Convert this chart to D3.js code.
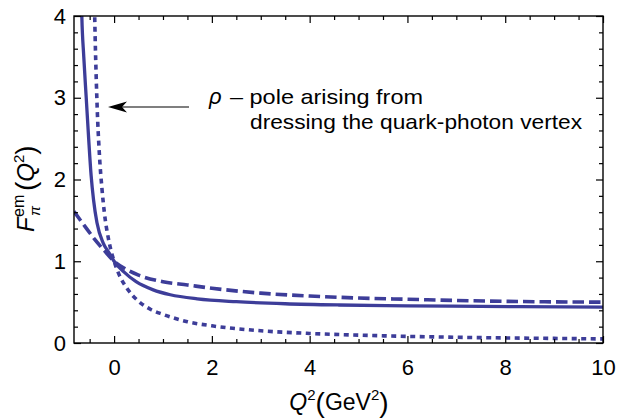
<!DOCTYPE html>
<html>
<head>
<meta charset="utf-8">
<script src="https://cdn.jsdelivr.net/npm/d3@7"></script>
<style>
  body { margin: 0; background: #fff; }
  text { font-family: "Liberation Sans", Arial, sans-serif; fill: #000; }
</style>
</head>
<body>
<script>
// pion em form factor vs Q^2, three curves

var outerWidth = 619,
    outerHeight = 418,
    plot = {left: 74, right: 603, top: 16, bottom: 343},
    lineColor = '#3d3d99';

// solid curve
var solidQ2 = [-0.675, -0.66, -0.62, -0.57, -0.52, -0.47, -0.42, -0.35, -0.22, -0.1, 0, 0.2, 0.45, 0.8, 1.15, 1.7, 2.5, 3.5, 4.6, 6, 7.5, 10];
var solidF  = [4.4, 4.0, 3.5, 3.0, 2.5, 2.05, 1.75, 1.47, 1.22, 1.1, 1.0, 0.87, 0.75, 0.65, 0.59, 0.54, 0.505, 0.48, 0.465, 0.455, 0.448, 0.44];

// dashed curve
var dashedQ2 = [-0.82, -0.6, -0.4, -0.2, 0, 0.25, 0.5, 1.0, 1.5, 2, 3, 4, 5, 6, 7, 8, 9, 10];
var dashedF  = [1.61, 1.43, 1.27, 1.13, 1.0, 0.9, 0.83, 0.75, 0.71, 0.67, 0.61, 0.575, 0.55, 0.535, 0.52, 0.51, 0.503, 0.50];

// dotted curve (rho pole)
var dottedQ2 = [-0.42, -0.4, -0.35, -0.3, -0.25, -0.2, -0.1, 0, 0.1, 0.25, 0.5, 0.75, 1, 1.5, 2, 3, 4, 5, 6, 7, 8, 9, 10];
var dottedF  = [4.8, 4.1, 2.95, 2.3, 1.9, 1.6, 1.23, 1.0, 0.84, 0.68, 0.51, 0.41, 0.35, 0.26, 0.21, 0.15, 0.117, 0.096, 0.081, 0.07, 0.062, 0.056, 0.05];

var xTicks = [0, 2, 4, 6, 8, 10];
var yTicks = [0, 1, 2, 3, 4];
var xMinor = [-0.5, 0.5, 1, 1.5, 2.5, 3, 3.5, 4.5, 5, 5.5, 6.5, 7, 7.5, 8.5, 9, 9.5];
var yMinor = [0.2, 0.4, 0.6, 0.8, 1.2, 1.4, 1.6, 1.8, 2.2, 2.4, 2.6, 2.8, 3.2, 3.4, 3.6, 3.8];

var svg = d3.select('body').append('svg')
  .attr('width', outerWidth)
  .attr('height', outerHeight);

var xScale = d3.scaleLinear().domain([-0.82, 10]).range([plot.left, plot.right]);
var yScale = d3.scaleLinear().domain([0, 4]).range([plot.bottom, plot.top]);

svg.append('clipPath').attr('id', 'clip')
  .append('rect')
  .attr('x', plot.left).attr('y', plot.top)
  .attr('width', plot.right - plot.left)
  .attr('height', plot.bottom - plot.top);

var line = d3.line()
  .x(function(d){ return xScale(d[0]); })
  .y(function(d){ return yScale(d[1]); })
  .curve(d3.curveMonotoneX);

function pairs(xs, ys){
  return xs.map(function(x, i){ return [x, ys[i]]; });
}

var curves = svg.append('g').attr('clip-path', 'url(#clip)');

curves.append('path')
  .datum(pairs(dottedQ2, dottedF))
  .attr('d', line)
  .attr('fill', 'none')
  .attr('stroke', lineColor)
  .attr('stroke-width', 3.6)
  .attr('stroke-dasharray', '5,4.5');

curves.append('path')
  .datum(pairs(dashedQ2, dashedF))
  .attr('d', line)
  .attr('fill', 'none')
  .attr('stroke', lineColor)
  .attr('stroke-width', 3.6)
  .attr('stroke-dasharray', '11.5,5');

curves.append('path')
  .datum(pairs(solidQ2, solidF))
  .attr('d', line)
  .attr('fill', 'none')
  .attr('stroke', lineColor)
  .attr('stroke-width', 3.3);

// frame axes, ticks pointing inward
function tidy(g){
  g.select('.domain').remove();
  g.selectAll('line').attr('stroke', '#000').attr('stroke-width', 1.2);
  g.selectAll('text').attr('font-size', 22).style('font-family', '"Liberation Sans", Arial, sans-serif');
}

svg.append('g').attr('transform', 'translate(0,' + plot.bottom + ')')
  .call(d3.axisBottom(xScale).tickValues(xTicks).tickSizeInner(-7).tickSizeOuter(0).tickPadding(16).tickFormat(d3.format('d')))
  .call(tidy);
svg.append('g').attr('transform', 'translate(0,' + plot.bottom + ')')
  .call(d3.axisBottom(xScale).tickValues(xMinor).tickSizeInner(-4).tickSizeOuter(0).tickFormat(''))
  .call(tidy);
svg.append('g').attr('transform', 'translate(0,' + plot.top + ')')
  .call(d3.axisTop(xScale).tickValues(xTicks).tickSizeInner(-7).tickSizeOuter(0).tickFormat(''))
  .call(tidy);
svg.append('g').attr('transform', 'translate(0,' + plot.top + ')')
  .call(d3.axisTop(xScale).tickValues(xMinor).tickSizeInner(-4).tickSizeOuter(0).tickFormat(''))
  .call(tidy);

svg.append('g').attr('transform', 'translate(' + plot.left + ',0)')
  .call(d3.axisLeft(yScale).tickValues(yTicks).tickSizeInner(-7).tickSizeOuter(0).tickPadding(8).tickFormat(d3.format('d')))
  .call(tidy);
svg.append('g').attr('transform', 'translate(' + plot.left + ',0)')
  .call(d3.axisLeft(yScale).tickValues(yMinor).tickSizeInner(-4).tickSizeOuter(0).tickFormat(''))
  .call(tidy);
svg.append('g').attr('transform', 'translate(' + plot.right + ',0)')
  .call(d3.axisRight(yScale).tickValues(yTicks).tickSizeInner(-7).tickSizeOuter(0).tickFormat(''))
  .call(tidy);
svg.append('g').attr('transform', 'translate(' + plot.right + ',0)')
  .call(d3.axisRight(yScale).tickValues(yMinor).tickSizeInner(-4).tickSizeOuter(0).tickFormat(''))
  .call(tidy);

svg.append('rect')
  .attr('x', plot.left).attr('y', plot.top)
  .attr('width', plot.right - plot.left)
  .attr('height', plot.bottom - plot.top)
  .attr('fill', 'none')
  .attr('stroke', '#000')
  .attr('stroke-width', 1.4);

// x axis title: Q^2(GeV^2)
var xt = svg.append('text')
  .attr('x', 339).attr('y', 410)
  .attr('text-anchor', 'middle')
  .attr('font-size', 23);
xt.append('tspan').attr('font-style', 'italic').text('Q');
xt.append('tspan').attr('font-size', 15).attr('dy', -10).text('2');
xt.append('tspan').attr('font-size', 28).attr('dy', 12).text('(');
xt.append('tspan').attr('dy', -2).text('GeV');
xt.append('tspan').attr('font-size', 15).attr('dy', -10).text('2');
xt.append('tspan').attr('font-size', 28).attr('dy', 12).text(')');

// y axis title: F_pi^em(Q^2), rotated
var yt = svg.append('g').attr('transform', 'translate(34,232) rotate(-90)');
yt.append('text').attr('x', 0).attr('y', 0)
  .attr('font-size', 24).attr('font-style', 'italic').text('F');
yt.append('text').attr('x', 15).attr('y', -10)
  .attr('font-size', 16).text('em');
yt.append('text').attr('x', 16).attr('y', 6)
  .attr('font-size', 15).attr('font-style', 'italic').text('\u03c0');
var yt2 = yt.append('text').attr('x', 41).attr('y', 0).attr('font-size', 24);
yt2.append('tspan').attr('font-size', 28).attr('dy', 1).text('(');
yt2.append('tspan').attr('font-style', 'italic').attr('dy', -1).text('Q');
yt2.append('tspan').attr('font-size', 15).attr('dy', -10).text('2');
yt2.append('tspan').attr('font-size', 28).attr('dy', 11).text(')');

// annotation with arrow
svg.append('line')
  .attr('x1', 121).attr('y1', 107)
  .attr('x2', 189).attr('y2', 107)
  .attr('stroke', '#000')
  .attr('stroke-width', 1.1);
svg.append('path')
  .attr('d', 'M108,107 L127,101.5 L122,107 L127,112.5 Z')
  .attr('fill', '#000');

svg.append('text').attr('x', 209).attr('y', 104).attr('font-size', 22)
  .attr('font-family', '"Liberation Serif", "DejaVu Serif", serif')
  .attr('font-style', 'italic').text('\u03c1');
svg.append('text').attr('x', 230).attr('y', 104).attr('font-size', 21)
  .attr('textLength', 193).attr('lengthAdjust', 'spacingAndGlyphs')
  .text('\u2013 pole arising from');
svg.append('text').attr('x', 250).attr('y', 129).attr('font-size', 21)
  .attr('textLength', 332).attr('lengthAdjust', 'spacingAndGlyphs')
  .text('dressing the quark-photon vertex');
</script>
</body>
</html>
